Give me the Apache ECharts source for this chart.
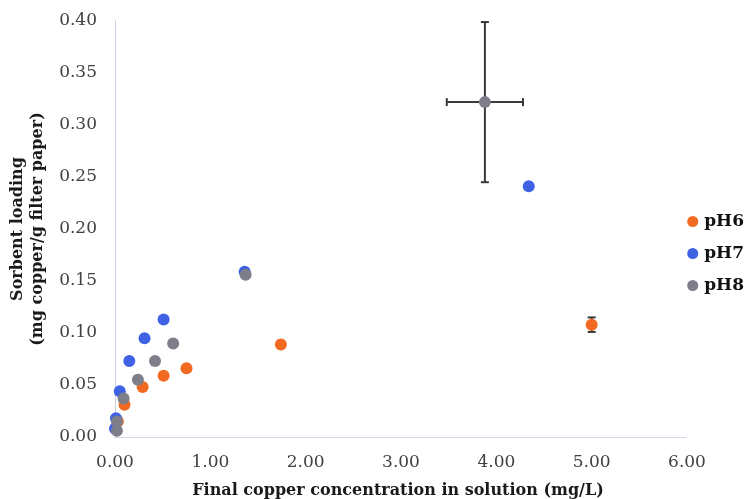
<!DOCTYPE html>
<html>
<head>
<meta charset="utf-8">
<style>
  html, body { margin: 0; padding: 0; background: #ffffff; }
  #chart { width: 749px; height: 499px; }
</style>
<script src="https://cdn.jsdelivr.net/npm/echarts@6/dist/echarts.min.js"></script>
</head>
<body>
<div id="chart"></div>
<script>
  // values
  var seriesNames = ["pH6", "pH7", "pH8"];
  var seriesColors = ["#f26a22", "#3f62e4", "#7e7e8a"];

  var ph6X = [0.03, 0.10, 0.29, 0.51, 0.75, 1.74, 5.00];
  var ph6Y = [0.015, 0.031, 0.048, 0.059, 0.066, 0.089, 0.108];
  var ph6XErr = [0, 0, 0, 0, 0, 0, 0];
  var ph6YErr = [0, 0, 0, 0, 0, 0, 0.007];

  var ph7X = [0.00, 0.01, 0.05, 0.15, 0.31, 0.51, 1.36, 4.34];
  var ph7Y = [0.008, 0.018, 0.044, 0.073, 0.095, 0.113, 0.159, 0.241];

  var ph8X = [0.02, 0.02, 0.09, 0.24, 0.42, 0.61, 1.37, 3.88];
  var ph8Y = [0.006, 0.015, 0.037, 0.055, 0.073, 0.090, 0.156, 0.322];
  var ph8XErr = [0, 0, 0, 0, 0, 0, 0, 0.40];
  var ph8YErr = [0, 0, 0, 0, 0, 0, 0, 0.077];

  var xTicks = ["0.00", "1.00", "2.00", "3.00", "4.00", "5.00", "6.00"];
  var yTicks = ["0.00", "0.05", "0.10", "0.15", "0.20", "0.25", "0.30", "0.35", "0.40"];

  var SERIF = "'DejaVu Serif', 'Liberation Serif', serif";

  function pairs(xs, ys) {
    return xs.map(function (x, i) { return [x, ys[i]]; });
  }

  function errRows(xs, ys, xe, ye) {
    var rows = [];
    xs.forEach(function (x, i) {
      if (xe[i] || ye[i]) rows.push([x, ys[i], xe[i], ye[i]]);
    });
    return rows;
  }

  function renderErr(params, api) {
    var x = api.value(0), y = api.value(1), xe = api.value(2), ye = api.value(3);
    var cap = 4;
    var style = { stroke: "#3a3a3a", lineWidth: 2 };
    var kids = [];
    if (ye) {
      var top = api.coord([x, y + ye]);
      var bot = api.coord([x, y - ye]);
      kids.push({ type: "line", shape: { x1: top[0], y1: top[1], x2: bot[0], y2: bot[1] }, style: style });
      kids.push({ type: "line", shape: { x1: top[0] - cap, y1: top[1], x2: top[0] + cap, y2: top[1] }, style: style });
      kids.push({ type: "line", shape: { x1: bot[0] - cap, y1: bot[1], x2: bot[0] + cap, y2: bot[1] }, style: style });
    }
    if (xe) {
      var l = api.coord([x - xe, y]);
      var r = api.coord([x + xe, y]);
      kids.push({ type: "line", shape: { x1: l[0], y1: l[1], x2: r[0], y2: r[1] }, style: style });
      kids.push({ type: "line", shape: { x1: l[0], y1: l[1] - cap, x2: l[0], y2: l[1] + cap }, style: style });
      kids.push({ type: "line", shape: { x1: r[0], y1: r[1] - cap, x2: r[0], y2: r[1] + cap }, style: style });
    }
    return { type: "group", children: kids };
  }

  function scatterSeries(i, xs, ys) {
    return {
      name: seriesNames[i],
      type: "scatter",
      symbolSize: 12,
      itemStyle: { color: seriesColors[i], opacity: 1 },
      data: pairs(xs, ys),
      z: 2 + i
    };
  }

  var chart = echarts.init(document.getElementById("chart"), null, { renderer: "canvas" });

  chart.setOption({
    backgroundColor: "#ffffff",
    animation: false,
    grid: { left: 115, right: 62, top: 21, bottom: 62, containLabel: false, outerBoundsMode: "none" },
    legend: {
      orient: "vertical",
      right: 0,
      top: 208,
      itemGap: 15,
      itemWidth: 11,
      itemHeight: 11,
      icon: "circle",
      data: seriesNames,
      textStyle: { fontFamily: SERIF, fontWeight: "bold", fontSize: 17, color: "#111111", padding: [0, 0, 0, 1] }
    },
    xAxis: {
      type: "value",
      min: 0,
      max: 6,
      interval: 1,
      name: "Final copper concentration in solution (mg/L)",
      nameLocation: "middle",
      nameGap: 46,
      nameTextStyle: { fontFamily: SERIF, fontWeight: "bold", fontSize: 16, color: "#1a1a1a", padding: [0, 6, 0, 0] },
      axisLine: { show: true, lineStyle: { color: "#c9cce4", width: 1, type: "dotted" } },
      axisTick: { show: false },
      splitLine: { show: false },
      axisLabel: {
        margin: 17,
        fontFamily: SERIF,
        fontSize: 17,
        color: "#404040",
        formatter: function (v) { return xTicks[Math.round(v)]; }
      }
    },
    yAxis: {
      type: "value",
      min: 0,
      max: 0.4,
      interval: 0.05,
      name: "Sorbent loading\n(mg copper/g filter paper)",
      nameLocation: "middle",
      nameGap: 54,
      nameRotate: 90,
      nameTextStyle: { fontFamily: SERIF, fontWeight: "bold", fontSize: 16, color: "#1a1a1a", lineHeight: 20, align: "center" },
      axisLine: { show: true, lineStyle: { color: "#c9cfe2", width: 1 } },
      axisTick: { show: false },
      splitLine: { show: false },
      axisLabel: {
        margin: 18,
        fontFamily: SERIF,
        fontSize: 17,
        color: "#404040",
        formatter: function (v) { return yTicks[Math.round(v / 0.05)]; }
      }
    },
    series: [
      {
        type: "custom",
        renderItem: renderErr,
        data: errRows(ph6X, ph6Y, ph6XErr, ph6YErr).concat(errRows(ph8X, ph8Y, ph8XErr, ph8YErr)),
        z: 1,
        silent: true
      },
      scatterSeries(0, ph6X, ph6Y),
      scatterSeries(1, ph7X, ph7Y),
      scatterSeries(2, ph8X, ph8Y)
    ]
  });
</script>
</body>
</html>
